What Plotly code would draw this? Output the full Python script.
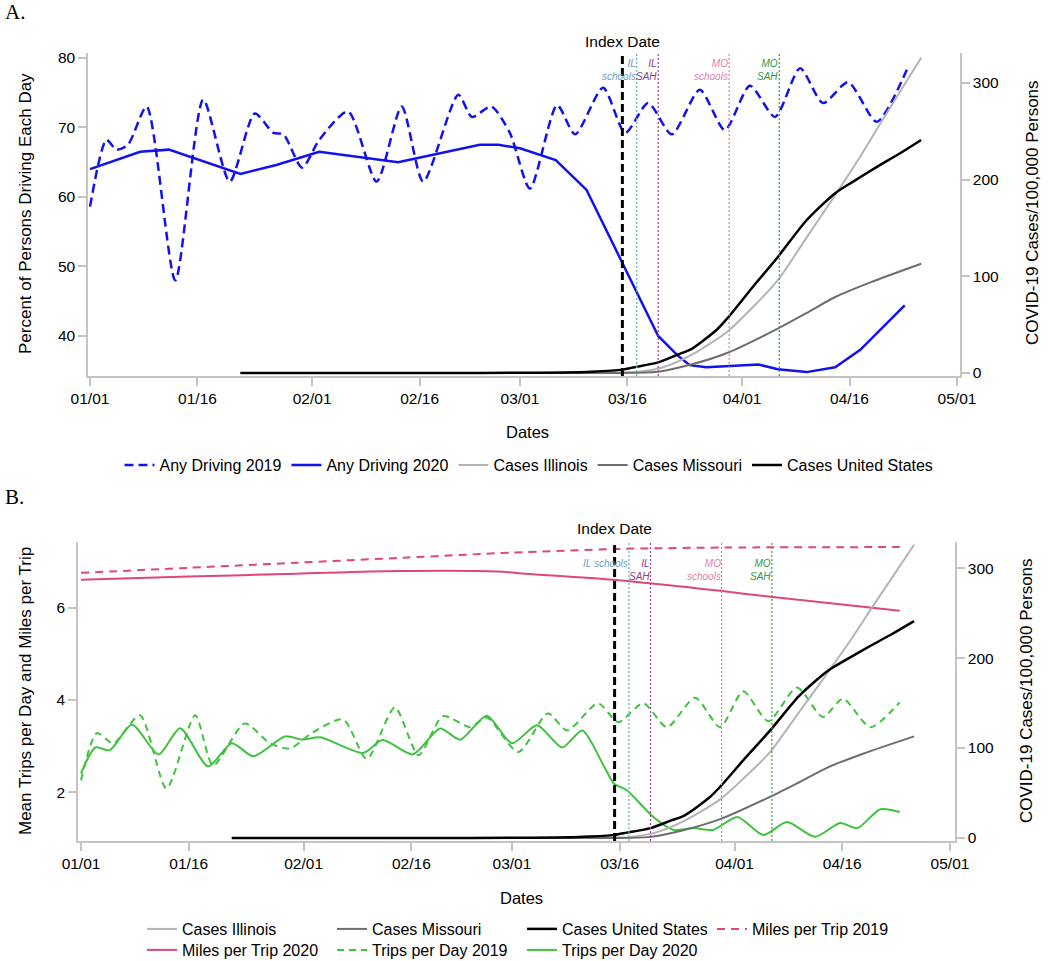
import plotly.graph_objects as go

W, H = 1050, 961

# ---------------- data ----------------
tick_days = [0, 15, 31, 46, 60, 75, 91, 106, 121]
tick_labels = ["01/01", "01/16", "02/01", "02/16", "03/01", "03/16", "04/01", "04/16", "05/01"]

# Panel A: percent of persons driving each day
drive2019_days = [0, 2.3, 3.7, 5.3, 7.9, 11.9, 15.8, 19.5, 23, 25.6, 27, 29.6, 32, 36, 40, 43.5, 46.5,
                  51.4, 53.3, 56, 58.6, 61.4, 65.2, 67.7, 71.6, 74.7, 77.9, 81.2, 85.1, 88.6, 92.1,
                  95.6, 99.1, 102.3, 105.8, 109.8, 114]
drive2019_pct = [58.6, 68.2, 66.8, 67.5, 73.0, 48.0, 74.0, 62.2, 72.0, 69.2, 69.0, 64.2, 68.2, 72.3, 62.2,
                 73.0, 62.2, 74.7, 71.5, 73.0, 69.2, 61.2, 73.2, 69.0, 75.7, 69.2, 73.5, 69.0, 75.4, 69.6,
                 76.0, 71.5, 78.5, 73.5, 76.5, 70.8, 78.3]
drive2020_days = [0, 7, 11, 21, 26, 32, 43, 54.4, 57, 60, 65, 69.3, 74.3, 79.3, 82, 83.7, 86, 93.3, 96,
                  100, 104, 107.5, 113.7]
drive2020_pct = [64.0, 66.5, 66.8, 63.3, 64.6, 66.5, 65.0, 67.5, 67.5, 67.0, 65.3, 61.0, 50.5, 40.0, 37.2,
                 35.8, 35.5, 35.9, 35.2, 34.8, 35.5, 38.0, 44.4]

# COVID-19 cases per 100,000 persons
us_days = [21, 50, 60, 66, 70, 74.3, 76, 79.3, 82, 84, 87.5, 89, 92.5, 96, 100, 104, 106.5, 110, 113, 116]
us_cases = [0, 0, 0.2, 0.6, 1.4, 3.5, 6, 11, 19, 25, 45, 57, 89, 120, 158, 186, 198, 214, 227, 241]
il_days = [21, 60, 70, 74, 76.3, 80, 84, 89, 92.5, 96, 100, 104, 107.5, 110.3, 116]
il_cases = [0, 0, 0.1, 0.4, 1, 6, 19, 43, 68, 96, 140, 184, 224, 258, 326]
mo_days = [21, 60, 74, 79, 84, 89, 96, 100, 104, 109, 116]
mo_cases = [0, 0, 0.1, 1, 9, 21, 46, 62, 78.6, 94, 113]

# Panel B: trips per day and miles per trip
miles2019_days = [0, 15, 30, 45, 60, 75, 90, 114]
miles2019 = [6.76, 6.87, 6.98, 7.09, 7.20, 7.28, 7.31, 7.32]
miles2020_days = [0, 15, 30, 44, 58, 62, 74, 89, 96, 114]
miles2020 = [6.61, 6.68, 6.74, 6.80, 6.79, 6.74, 6.61, 6.37, 6.24, 5.94]
trips2019_days = [0, 2.2, 4.5, 8.2, 11.9, 15.9, 18.4, 22.8, 26.3, 29.1, 32.3, 36.5, 39.8, 43.7, 47, 50.4,
                  54.2, 56.5, 60.9, 65, 67.7, 72, 74.8, 78.3, 81.6, 85.5, 89, 92.2, 95.7, 99.7, 103.3,
                  106.1, 109.9, 114]
trips2019 = [2.26, 3.28, 3.06, 3.67, 2.08, 3.67, 2.58, 3.49, 3.06, 2.95, 3.30, 3.58, 2.72, 3.84, 2.80, 3.65,
             3.41, 3.62, 2.87, 3.71, 3.34, 3.93, 3.52, 3.93, 3.41, 4.05, 3.41, 4.19, 3.54, 4.27, 3.63,
             4.03, 3.41, 3.95]
trips2020_days = [0, 2, 4, 7.1, 10.8, 13.8, 17.7, 21, 24, 28.4, 30.8, 33.3, 39.3, 42, 46.2, 50, 52.8, 56.5,
                  60, 63.5, 67, 69.8, 72.6, 74.2, 76, 79.7, 82.5, 85.3, 88, 91.4, 95, 98.3, 102.2, 105.7,
                  108.1, 111.3, 114]
trips2020 = [2.41, 2.97, 2.91, 3.47, 2.82, 3.39, 2.56, 3.06, 2.78, 3.21, 3.14, 3.19, 2.85, 3.13, 2.82, 3.38,
             3.14, 3.66, 3.06, 3.45, 2.97, 3.34, 2.63, 2.19, 2.04, 1.46, 1.18, 1.22, 1.18, 1.46, 1.07,
             1.35, 1.03, 1.33, 1.22, 1.63, 1.57]

# Policy dates
index_day = 74.3
index_label = "Index Date"
event_days = [76.3, 79.3, 89.2, 96.2]
event_labels_A = ["IL<br>schools", "IL<br>SAH", "MO<br>schools", "MO<br>SAH"]
event_labels_B = ["IL schools", "IL<br>SAH", "MO<br>schools", "MO<br>SAH"]
event_line_colors = ["#5fb3b0", "#9c3c9c", "#e07aa5", "#3aa046"]
event_text_colors = ["#6b9cc0", "#8e3a8e", "#e07fa8", "#2e9a3e"]

# ---------------- styling ----------------
FONT = "Liberation Sans, Arial, Helvetica, sans-serif"
SERIF = "Liberation Serif, Times New Roman, serif"
BLUE = "#1212ee"
PINK = "#e0457c"
GREEN = "#3fc23f"
LIGHTGRAY = "#b4b4b4"
DARKGRAY = "#6e6e68"
AXISGRAY = "#c4c4c4"


def px_x(p):
    return p / W


def px_y(p):
    return 1 - p / H


fig = go.Figure()


def add(x, y, name, color, width, dash, xa, ya, legend, rank, shape="spline"):
    fig.add_trace(go.Scatter(
        x=x, y=y, name=name, mode="lines",
        line=dict(color=color, width=width, dash=dash, shape=shape, smoothing=0.7),
        xaxis=xa, yaxis=ya, legend=legend, legendrank=rank, hoverinfo="skip"))


# Panel A
add(drive2019_days, drive2019_pct, "Any Driving 2019", BLUE, 2.5, "9px,5px", "x", "y", "legend", 1)
add(drive2020_days, drive2020_pct, "Any Driving 2020", BLUE, 2.5, "solid", "x", "y", "legend", 2, "linear")
add(il_days, il_cases, "Cases Illinois", LIGHTGRAY, 2, "solid", "x", "y2", "legend", 3)
add(mo_days, mo_cases, "Cases Missouri", DARKGRAY, 2, "solid", "x", "y2", "legend", 4)
add(us_days, us_cases, "Cases United States", "black", 2.5, "solid", "x", "y2", "legend", 5)

# Panel B
add(miles2019_days, miles2019, "Miles per Trip 2019", PINK, 2, "8px,6px", "x2", "y3", "legend2", 4)
add(miles2020_days, miles2020, "Miles per Trip 2020", PINK, 2, "solid", "x2", "y3", "legend3", 5)
add(trips2019_days, trips2019, "Trips per Day 2019", GREEN, 2, "7px,5px", "x2", "y3", "legend3", 6)
add(trips2020_days, trips2020, "Trips per Day 2020", GREEN, 2, "solid", "x2", "y3", "legend3", 7)
add(il_days, il_cases, "Cases Illinois", LIGHTGRAY, 2, "solid", "x2", "y4", "legend2", 1)
add(mo_days, mo_cases, "Cases Missouri", DARKGRAY, 2, "solid", "x2", "y4", "legend2", 2)
add(us_days, us_cases, "Cases United States", "black", 2.5, "solid", "x2", "y4", "legend2", 3)

axis_common = dict(showline=True, linecolor=AXISGRAY, linewidth=1.5, ticks="outside", ticklen=8,
                   tickcolor=AXISGRAY, tickwidth=1.5, showgrid=False, zeroline=False, automargin=False,
                   tickfont=dict(family=FONT, size=15.5, color="black"))

# pixel geometry of the two panels
A_left, A_right, A_top, A_bottom = 88, 960, 53, 376
B_left, B_right, B_top, B_bottom = 78, 955, 542, 841

fig.update_layout(
    xaxis=dict(domain=[px_x(A_left), px_x(A_right)], range=[-0.28, 121.42], anchor="y",
               tickvals=tick_days, ticktext=tick_labels, **axis_common),
    yaxis=dict(domain=[px_y(A_bottom), px_y(A_top)], range=[34.24, 80.7], anchor="x",
               tickvals=[40, 50, 60, 70, 80], **axis_common),
    yaxis2=dict(overlaying="y", side="right", anchor="x", range=[-3.1, 331],
                tickvals=[0, 100, 200, 300], **axis_common),
    xaxis2=dict(domain=[px_x(B_left), px_x(B_right)], range=[-0.42, 121.7], anchor="y3",
                tickvals=tick_days, ticktext=tick_labels, **axis_common),
    yaxis3=dict(domain=[px_y(B_bottom), px_y(B_top)], range=[0.94, 7.43], anchor="x2",
                tickvals=[2, 4, 6], **axis_common),
    yaxis4=dict(overlaying="y3", side="right", anchor="x2", range=[-3.3, 329],
                tickvals=[0, 100, 200, 300], **axis_common),
)

legend_font = dict(family=FONT, size=16, color="black")
fig.update_layout(
    legend=dict(orientation="h", x=px_x(529), xanchor="center", y=px_y(465), yanchor="middle",
                font=legend_font, bgcolor="rgba(0,0,0,0)", traceorder="normal"),
    legend2=dict(orientation="h", x=px_x(142), xanchor="left", y=px_y(929), yanchor="middle",
                 font=legend_font, bgcolor="rgba(0,0,0,0)", traceorder="normal",
                 entrywidth=145, entrywidthmode="pixels"),
    legend3=dict(orientation="h", x=px_x(142), xanchor="left", y=px_y(950), yanchor="middle",
                 font=legend_font, bgcolor="rgba(0,0,0,0)", traceorder="normal",
                 entrywidth=145, entrywidthmode="pixels"),
)

shapes = []
annotations = []
for xa, ya, labels, label_shift, idx_shift in [("x", "y", event_labels_A, -3, 1),
                                                ("x2", "y3", event_labels_B, -14, 3)]:
    shapes.append(dict(type="line", xref=xa, yref=ya + " domain", x0=index_day, x1=index_day, y0=0, y1=1,
                       line=dict(color="black", width=3, dash="8px,4px"), layer="above"))
    annotations.append(dict(text=index_label, x=index_day, xref=xa, y=1, yref=ya + " domain",
                            yanchor="bottom", xanchor="center", yshift=idx_shift, showarrow=False,
                            font=dict(family=FONT, size=15.5, color="black")))
    for d, lab, lc, tc in zip(event_days, labels, event_line_colors, event_text_colors):
        shapes.append(dict(type="line", xref=xa, yref=ya + " domain", x0=d, x1=d, y0=0, y1=1,
                           line=dict(color=lc, width=1.2, dash="2px,2px"), layer="above"))
        annotations.append(dict(text="<i>" + lab + "</i>", x=d, xref=xa, y=1, yref=ya + " domain",
                                xanchor="right", yanchor="top", align="right", xshift=1,
                                yshift=label_shift, showarrow=False,
                                font=dict(family=FONT, size=10, color=tc)))

# axis titles and panel letters
def text(t, x, y, size, angle=0, family=FONT):
    annotations.append(dict(text=t, x=px_x(x), y=px_y(y), xref="paper", yref="paper",
                            xanchor="center", yanchor="middle", textangle=angle, showarrow=False,
                            font=dict(family=family, size=size, color="black")))

text("Percent of Persons Driving Each Day", 25, 214, 17, -90)
text("COVID-19 Cases/100,000 Persons", 1032, 213, 17, -90)
text("Dates", 527, 432, 16.5)
text("Mean Trips per Day and Miles per Trip", 25, 691, 17, -90)
text("COVID-19 Cases/100,000 Persons", 1026, 691, 17, -90)
text("Dates", 521, 898, 16.5)
annotations.append(dict(text="A.", x=px_x(3), y=px_y(12), xref="paper", yref="paper", xanchor="left",
                        yanchor="middle", showarrow=False, font=dict(family=SERIF, size=21, color="black")))
annotations.append(dict(text="B.", x=px_x(3), y=px_y(497), xref="paper", yref="paper", xanchor="left",
                        yanchor="middle", showarrow=False, font=dict(family=SERIF, size=21, color="black")))

fig.update_layout(
    shapes=shapes, annotations=annotations,
    width=W, height=H, autosize=False,
    margin=dict(l=0, r=0, t=0, b=0, autoexpand=False),
    paper_bgcolor="white", plot_bgcolor="white",
    font=dict(family=FONT, color="black"),
    showlegend=True,
)

fig.write_html("out.html", config={"displayModeBar": False},
               post_script="document.body.style.margin='0';document.body.style.overflow='hidden';")
